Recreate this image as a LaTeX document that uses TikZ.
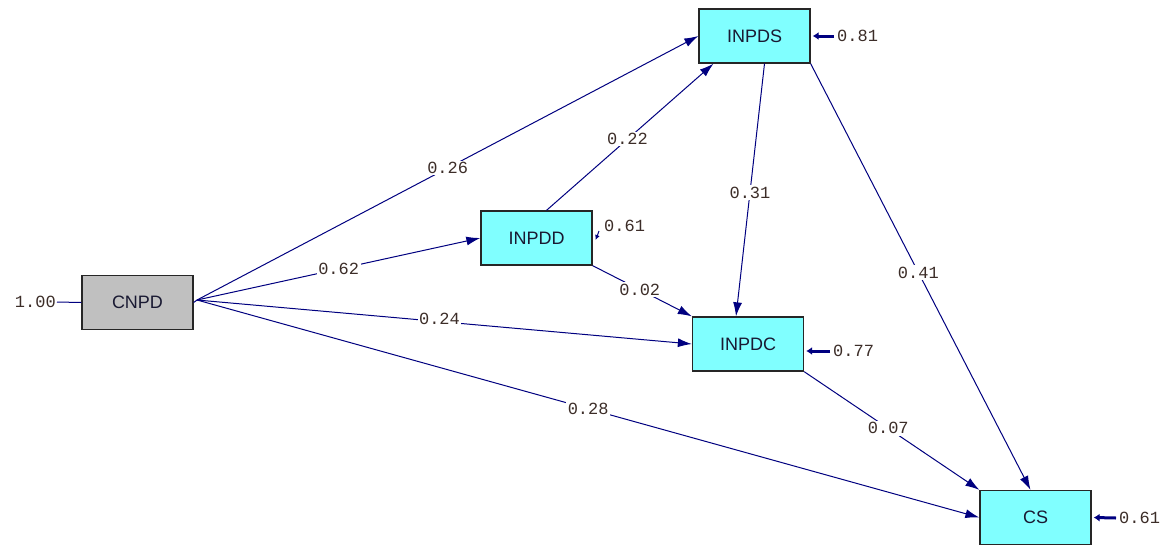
\documentclass[tikz,border=0pt]{standalone}
\usepackage{fontspec}
\setmainfont{Liberation Sans}
\newfontfamily\coeffont{Liberation Mono}
\usetikzlibrary{arrows.meta}
\definecolor{pathblue}{RGB}{0,0,128}
\definecolor{boxcyan}{RGB}{128,255,255}
\definecolor{boxgray}{RGB}{192,192,192}
\definecolor{coefink}{RGB}{60,45,40}
\definecolor{nameink}{RGB}{25,25,50}
\tikzset{
  var/.style={draw=black!85, line width=1.3pt, minimum width=111pt, minimum height=54pt,
    inner sep=0pt, font=\fontsize{18}{19}\selectfont, text=nameink},
  endo/.style={var, fill=boxcyan},
  exo/.style={var, fill=boxgray},
  path/.style={draw=pathblue, line width=1pt, -{Latex[length=14pt,width=9pt]}},
  errpath/.style={draw=pathblue, line width=3pt, -{Latex[length=6pt,width=8pt]}},
  coef/.style={font=\coeffont\fontsize{17}{17}\selectfont, text=coefink, fill=white,
    inner sep=1.5pt, anchor=center},
  coefplain/.style={font=\coeffont\fontsize{17}{17}\selectfont, text=coefink, inner sep=1pt}
}
\begin{document}
\begin{tikzpicture}[x=1pt, y=-1pt]
\useasboundingbox[fill=white] (0,0) rectangle (1173,547);

% variables
\node[exo]  (cnpd)  at (137.5,302.5) {CNPD};
\node[endo] (inpds) at (754.5,36)    {INPDS};
\node[endo] (inpdd) at (536.5,238)   {INPDD};
\node[endo] (inpdc) at (748,344)     {INPDC};
\node[endo] (cs)    at (1035.5,517.5){CS};

% common origin of the paths leaving CNPD
\coordinate (src) at (197,300);
\draw[pathblue, line width=1pt] (cnpd.east) -- (src);

% paths with coefficients
\draw[path] (src) -- node[coef, pos=0.5] {0.26} (inpds.west);
\draw[path] (src) -- node[coef, pos=0.5] {0.62} (inpdd.west);
\draw[path] (src) -- node[coef, pos=0.49, yshift=3pt] {0.24} (inpdc.west);
\draw[path] (src) -- node[coef, pos=0.5] {0.28} (cs.west);
\draw[path] ([xshift=10pt]inpdd.north) -- node[coef, pos=0.485] {0.22} ([xshift=-41pt]inpds.south);
\draw[path] (inpdd.south east) -- node[coef, pos=0.475] {0.02} (inpdc.north west);
\draw[path] ([xshift=10pt]inpds.south) -- node[coef, pos=0.51] {0.31} ([xshift=-12pt]inpdc.north);
\draw[path] (inpds.south east) -- node[coef, pos=0.49] {0.41} ([xshift=-5pt]cs.north);
\draw[path] (inpdc.south east) -- node[coef, pos=0.48] {0.07} (cs.north west);

% variance of the exogenous variable
\coordinate (cnpdvar) at (57,302);
\draw[pathblue, line width=1pt] (cnpdvar) -- (cnpd.west);
\node[coefplain, anchor=east] (v0) at (cnpdvar) {1.00};

% error terms
\coordinate (e1) at (834,36);
\draw[errpath] (e1) -- ([xshift=2pt]inpds.east);
\node[coefplain, anchor=west] (v1) at ([xshift=2pt]e1) {0.81};

\coordinate (e2) at (599,231);
\draw[pathblue, line width=1pt, -{Latex[length=5pt,width=5pt]}] (e2) -- ([xshift=3pt,yshift=-2pt]inpdd.east);
\node[coefplain, anchor=west] (v2) at (603,226) {0.61};

\coordinate (e3) at (830,351);
\draw[errpath] (e3) -- ([xshift=2pt]e3 -| inpdc.east);
\node[coefplain, anchor=west] (v3) at ([xshift=2pt]e3) {0.77};

\coordinate (e4) at (1116,518);
\draw[errpath] (e4) -- ([xshift=2pt]cs.east);
\node[coefplain, anchor=west] (v4) at ([xshift=2pt]e4) {0.61};
\end{tikzpicture}
\end{document}
